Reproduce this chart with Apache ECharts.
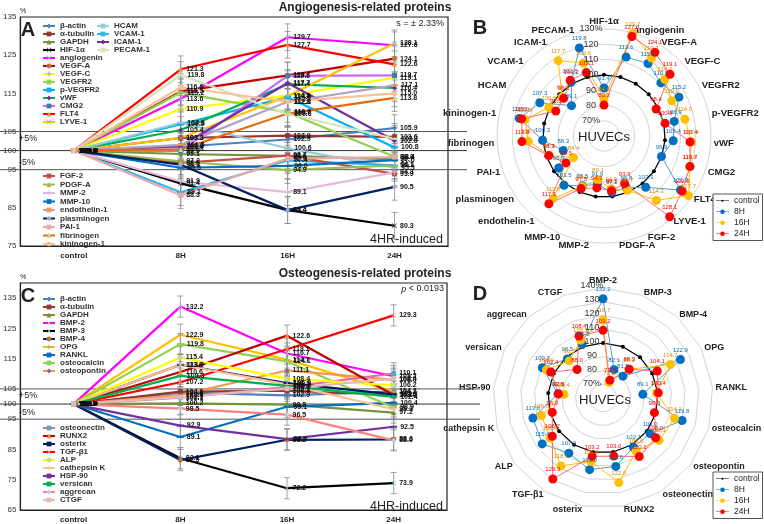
<!DOCTYPE html>
<html lang="en">
<head>
<meta charset="UTF-8">
<title>HUVECs angiogenesis / osteogenesis proteins</title>
<script src="https://cdn.jsdelivr.net/npm/echarts@6/dist/echarts.min.js"></script>
<style>
  html, body { margin: 0; padding: 0; background: #fff; }
  #main { width: 764px; height: 524px; }
</style>
</head>
<body>
<div id="main"></div>
<script>
const times = ['control', '8H', '16H', '24H'];

// panel A / B : angiogenesis-related proteins (control = 100)
const angioNames = ['β-actin', 'α-tubulin', 'GAPDH', 'HIF-1α', 'angiogenin', 'VEGF-A', 'VEGF-C', 'VEGFR2',
  'p-VEGFR2', 'vWF', 'CMG2', 'FLT4', 'LYVE-1', 'HCAM', 'VCAM-1', 'ICAM-1', 'PECAM-1', 'FGF-2', 'PDGF-A',
  'MMP-2', 'MMP-10', 'endothelin-1', 'plasminogen', 'PAI-1', 'fibrinogen', 'kininogen-1'];
const angio8H  = [101.0, 103.3, 99.1, 91.4, 113.6, 115.5, 110.9, 115.2, 106.9, 105.4, 99.9, 121.3, 103.3,
  107.3, 89.1, 101.2, 119.8, 96.8, 97.2, 91.9, 95.5, 101.5, 96.3, 88.3, 100.3, 116.6];
const angio16H = [102.9, 103.9, 98.6, 84.4, 129.7, 119.7, 114.4, 110.0, 114.0, 117.4, 119.6, 127.7, 114.3,
  100.6, 97.4, 117.7, 109.6, 98.7, 94.9, 89.1, 96.0, 112.8, 84.4, 97.9, 109.7, 112.8];
const angio24H = [105.9, 103.6, 97.7, 80.3, 127.6, 124.1, 119.1, 98.4, 100.8, 116.4, 119.7, 122.6, 128.1,
  95.5, 96.1, 102.6, 103.1, 93.9, 96.1, 94.3, 97.5, 117.1, 90.5, 98.3, 113.8, 115.0];
// radar B axes, clockwise from the top
const angioRadarAxes = ['HIF-1α', 'angiogenin', 'VEGF-A', 'VEGF-C', 'VEGFR2', 'p-VEGFR2', 'vWF', 'CMG2',
  'FLT4', 'LYVE-1', 'FGF-2', 'PDGF-A', 'MMP-2', 'MMP-10', 'endothelin-1', 'plasminogen', 'PAI-1',
  'fibrinogen', 'kininogen-1', 'HCAM', 'VCAM-1', 'ICAM-1', 'PECAM-1'];

// panel C / D : osteogenesis-related proteins
const osteoNames = ['β-actin', 'α-tubulin', 'GAPDH', 'BMP-2', 'BMP-3', 'BMP-4', 'OPG', 'RANKL', 'osteocalcin',
  'osteopontin', 'osteonectin', 'RUNX2', 'osterix', 'TGF-β1', 'ALP', 'cathepsin K', 'HSP-90', 'versican',
  'aggrecan', 'CTGF'];
const osteo8H  = [103.8, 104.1, 100.2, 132.2, 82.1, 81.5, 122.9, 89.1, 119.8, 103.0, 102.1, 110.6, 113.0,
  107.2, 115.4, 113.0, 92.9, 109.3, 98.5, 102.3];
const osteo16H = [102.9, 104.4, 99.8, 116.7, 72.2, 88.2, 114.7, 99.1, 114.1, 111.1, 105.6, 122.6, 106.9,
  118.1, 108.4, 106.5, 88.4, 106.0, 96.5, 105.1];
const osteo24H = [104.2, 103.0, 97.2, 109.2, 73.9, 88.3, 104.1, 100.4, 98.9, 108.0, 110.1, 103.0, 103.2,
  129.3, 106.2, 98.3, 92.5, 102.4, 88.0, 108.4];
const osteoRadarAxes = osteoNames.slice(3);

const angioYLabels = [75, 85, 95, 100, 105, 115, 125, 135];
const osteoYLabels = [65, 75, 85, 95, 100, 105, 115, 125, 135];
const angioRings = [70, 80, 90, 100, 110, 120, 130];
const osteoRings = [70, 80, 90, 100, 110, 120, 130, 140];

// ---- styles ----
const FONT = '"Liberation Sans", Arial, sans-serif';
const XSYM = 'path://M1,0L5,4L9,0L10,1L6,5L10,9L9,10L5,6L1,10L0,9L4,5L0,1Z';
const PLUS = 'path://M4,0H6V4H10V6H6V10H4V6H0V4H4Z';
const DASH = 'path://M0,0H10V3H0Z';

const angioStyle = {
  'β-actin': ['#4f81bd', '#4f81bd', 'diamond'], 'α-tubulin': ['#953735', '#953735', 'rect'],
  'GAPDH': ['#77933c', '#77933c', 'triangle'], 'HIF-1α': ['#000000', '#404040', XSYM],
  'angiogenin': ['#ff00ff', '#9dc3e6', XSYM], 'VEGF-A': ['#c00000', '#c0703a', 'circle'],
  'VEGF-C': ['#ffff00', '#a6a6a6', PLUS], 'VEGFR2': ['#92d050', '#92d050', DASH],
  'p-VEGFR2': ['#00b0f0', '#00b0f0', DASH], 'vWF': ['#00b050', '#7030a0', 'diamond'],
  'CMG2': ['#cc66ff', '#31859c', 'rect'], 'FLT4': ['#ff0000', '#f79646', 'triangle'],
  'LYVE-1': ['#ffc000', '#8db4e2', XSYM], 'HCAM': ['#93cddd', '#93cddd', DASH],
  'VCAM-1': ['#31b6e7', '#31b6e7', DASH], 'ICAM-1': ['#7030a0', '#7030a0', 'diamond'],
  'PECAM-1': ['#d7e4bd', '#d7e4bd', DASH], 'FGF-2': ['#c0504d', '#c0504d', 'rect'],
  'PDGF-A': ['#9bbb59', '#9bbb59', 'triangle'], 'MMP-2': ['#e6b9d8', '#ccc0da', PLUS],
  'MMP-10': ['#0070c0', '#0070c0', DASH], 'endothelin-1': ['#b3a2c7', '#f79646', DASH],
  'plasminogen': ['#002060', '#95b3d7', 'diamond'], 'PAI-1': ['#eaa9a9', '#eaa9a9', 'rect'],
  'fibrinogen': ['#e46c0a', '#c3d69b', 'triangle'], 'kininogen-1': ['#fac090', '#fac090', 'circle']
};
const osteoStyle = {
  'β-actin': ['#4f81bd', '#4f81bd', 'diamond'], 'α-tubulin': ['#953735', '#953735', 'rect'],
  'GAPDH': ['#77933c', '#77933c', 'triangle'], 'BMP-2': ['#ff00ff', '#b7dee8', XSYM],
  'BMP-3': ['#000000', '#93cddd', XSYM], 'BMP-4': ['#002060', '#c0703a', 'circle'],
  'OPG': ['#ffc000', '#a6a6a6', PLUS], 'RANKL': ['#0070c0', '#0070c0', DASH],
  'osteocalcin': ['#92d050', '#92d050', DASH], 'osteopontin': ['#f79646', '#8064a2', 'diamond'],
  'osteonectin': ['#e36c9a', '#4bacc6', 'rect'], 'RUNX2': ['#c00000', '#f79646', 'triangle'],
  'osterix': ['#002060', '#002060', DASH], 'TGF-β1': ['#ff0000', '#f2a7a7', XSYM],
  'ALP': ['#ffff00', '#c3d69b', 'circle'], 'cathepsin K': ['#fac090', '#fac090', PLUS],
  'HSP-90': ['#7030a0', '#7030a0', DASH], 'versican': ['#00b050', '#00b050', DASH],
  'aggrecan': ['#ff8080', '#b9cde5', 'diamond'], 'CTGF': ['#e6b9b8', '#e6b9b8', 'rect']
};

const fmt1 = v => (typeof v === 'number' ? v.toFixed(1) : v);

function lineSeries(names, v8, v16, v24, style, axisIdx) {
  return names.map((n, i) => {
    const s = style[n];
    return {
      type: 'line', name: n, xAxisIndex: axisIdx, yAxisIndex: axisIdx,
      data: [100, v8[i], v16[i], v24[i]],
      symbol: s[2], symbolSize: s[2] === DASH ? [7, 2] : 5,
      lineStyle: { color: s[0], width: 2.2 },
      itemStyle: { color: s[1] },
      label: { show: true, position: 'right', distance: 3, fontSize: 7, fontWeight: 'bold',
        color: '#111', fontFamily: FONT, formatter: p => fmt1(p.value) },
      emphasis: { disabled: true }, z: 3
    };
  });
}

function errSeries(v8, v16, v24, err, axisIdx) {
  const data = [];
  [v8, v16, v24].forEach((arr, k) => arr.forEach(v => data.push([k + 1, v - err, v + err])));
  return {
    type: 'custom', name: 'err' + axisIdx, xAxisIndex: axisIdx, yAxisIndex: axisIdx, z: 2,
    encode: { x: 0, y: [1, 2] }, data: data, silent: true,
    renderItem: (params, api) => {
      const lo = api.coord([api.value(0), api.value(1)]);
      const hi = api.coord([api.value(0), api.value(2)]);
      const st = { stroke: '#8c8c8c', lineWidth: 0.8 };
      return { type: 'group', children: [
        { type: 'line', shape: { x1: lo[0], y1: lo[1], x2: hi[0], y2: hi[1] }, style: st },
        { type: 'line', shape: { x1: lo[0] - 3, y1: lo[1], x2: lo[0] + 3, y2: lo[1] }, style: st },
        { type: 'line', shape: { x1: hi[0] - 3, y1: hi[1], x2: hi[0] + 3, y2: hi[1] }, style: st }
      ] };
    }
  };
}

// echarts lays radar axes counter-clockwise, so flip the list after the first one
const ccw = arr => [arr[0]].concat(arr.slice(1).reverse());

function radarData(axes, names, v8, v16, v24) {
  const pick = arr => ccw(axes.map(a => arr[names.indexOf(a)]));
  const lab = c => ({ show: true, fontSize: 6, color: c, fontFamily: FONT, distance: 2, formatter: p => fmt1(p.value) });
  return [
    { name: 'control', value: axes.map(() => 100), symbol: 'circle', symbolSize: 4,
      lineStyle: { color: '#000', width: 1.2 }, itemStyle: { color: '#000' }, label: { show: false } },
    { name: '8H', value: pick(v8), symbol: 'circle', symbolSize: 9,
      lineStyle: { color: '#5b9bd5', width: 1 }, itemStyle: { color: '#0070c0' }, label: lab('#0070c0') },
    { name: '16H', value: pick(v16), symbol: 'circle', symbolSize: 9,
      lineStyle: { color: '#ffc000', width: 1 }, itemStyle: { color: '#ffc000' }, label: lab('#e08a00') },
    { name: '24H', value: pick(v24), symbol: 'circle', symbolSize: 9,
      lineStyle: { color: '#ff6b6b', width: 1 }, itemStyle: { color: '#ff0000' }, label: lab('#ff0000') }
  ];
}

const legendText = { fontSize: 8, lineHeight: 8, fontWeight: 'bold', color: '#333', fontFamily: FONT };
function lineLegend(list, left, top, gap) {
  return { data: list, orient: 'vertical', left: left, top: top, itemWidth: 12, itemHeight: 6,
    itemGap: gap, padding: 0, selectedMode: false, textStyle: legendText };
}
const radarIcon = r => 'path://M0,4.6H20V5.4H0Z M' + (10 + r) + ',5A' + r + ',' + r + ' 0 1 1 ' + (10 - r) +
  ',5A' + r + ',' + r + ' 0 1 1 ' + (10 + r) + ',5Z';
function radarLegend(left, top) {
  return { data: [{ name: 'control', icon: radarIcon(1.6) }, { name: '8H', icon: radarIcon(3.5) },
    { name: '16H', icon: radarIcon(3.5) }, { name: '24H', icon: radarIcon(3.5) }],
    orient: 'vertical', left: left, top: top, itemWidth: 13, itemHeight: 7, itemGap: 1.5,
    padding: [2, 3, 2, 3], borderColor: '#555', borderWidth: 1, backgroundColor: '#fff',
    selectedMode: false, textStyle: { fontSize: 8.5, lineHeight: 9.5, color: '#222', fontFamily: FONT } };
}

function yAxis(gridIdx, min, max, shown) {
  return { type: 'value', gridIndex: gridIdx, min: min, max: max, interval: 5,
    axisLine: { show: true, lineStyle: { color: '#222', width: 1.2 } }, axisTick: { show: false },
    splitLine: { show: false },
    axisLabel: { fontSize: 8, color: '#333', margin: 4, fontFamily: FONT,
      formatter: v => (shown.indexOf(v) >= 0 ? String(v) : '') } };
}
function xAxis(gridIdx) {
  return { type: 'category', gridIndex: gridIdx, data: times, boundaryGap: true,
    axisLine: { lineStyle: { color: '#222', width: 1.2 } }, axisTick: { show: false },
    axisLabel: { fontSize: 8, fontWeight: 'bold', color: '#222', margin: 6, fontFamily: FONT } };
}

function radarCfg(center, radius, axes, max, split, shape, nameSize, gap) {
  return { center: center, radius: radius, startAngle: 90, shape: shape, splitNumber: split,
    indicator: ccw(axes).map(n => ({ name: n, min: 60, max: max })),
    nameGap: gap,
    axisName: { color: '#222', fontSize: nameSize, fontWeight: 'bold', fontFamily: FONT },
    splitLine: { lineStyle: { color: '#d4d4d4', width: 1 } }, splitArea: { show: false },
    axisLine: { show: false }, axisTick: { show: false }, axisLabel: { show: false } };
}

function txt(x, y, text, size, opts) {
  return Object.assign({ type: 'text', x: x, y: y, silent: true, z: 10,
    style: Object.assign({ text: text, font: size + 'px ' + FONT, fill: '#222',
      align: 'center', verticalAlign: 'middle' }, (opts || {})) });
}

const graphics = [
  txt(365, 8, 'Angiogenesis-related proteins', 12, { font: 'bold 12px ' + FONT }),
  txt(444, 24, 's = ± 2.33%', 9, { align: 'right' }),
  txt(443, 240, '4HR-induced', 12.5, { align: 'right' }),
  txt(28, 30, 'A', 20, { font: 'bold 20px ' + FONT }),
  txt(20, 11, '%', 7, { align: 'left' }),
  txt(365, 274, 'Osteogenesis-related proteins', 12, { font: 'bold 12px ' + FONT }),
  { type: 'text', x: 444, y: 289, silent: true, z: 10,
    style: { text: '{i|p} < 0.0193', align: 'right', verticalAlign: 'middle', font: '9px ' + FONT, fill: '#222',
      rich: { i: { fontStyle: 'italic', fontSize: 9, fontFamily: FONT } } } },
  txt(443, 507, '4HR-induced', 12.5, { align: 'right' }),
  txt(28, 296, 'C', 20, { font: 'bold 20px ' + FONT }),
  txt(20, 277, '%', 7, { align: 'left' }),
  txt(480, 28, 'B', 20, { font: 'bold 20px ' + FONT }),
  txt(480, 294, 'D', 20, { font: 'bold 20px ' + FONT }),
  txt(604, 137, 'HUVECs', 13),
  txt(605, 400, 'HUVECs', 13)
];
angioRings.forEach(v => graphics.push(txt(591, 136 - (v - 60) / 70 * 107,
  v === 130 ? '130%' : (v === 70 ? '70%' : String(v)), 9, { fill: '#333' })));
osteoRings.forEach(v => graphics.push(txt(592, 398 - (v - 60) / 80 * 112,
  v === 140 ? '140%' : (v === 70 ? '70%' : String(v)), 9, { fill: '#333' })));

const option = {
  animation: false,
  backgroundColor: '#fff',
  textStyle: { fontFamily: FONT },
  grid: [
    { left: 17, top: 17, width: 431, height: 229, show: true, borderColor: '#222', borderWidth: 1.2 },
    { left: 17, top: 283, width: 430, height: 230, show: true, borderColor: '#222', borderWidth: 1.2 }
  ],
  xAxis: [xAxis(0), xAxis(1)],
  yAxis: [yAxis(0, 75, 135, angioYLabels), yAxis(1, 65, 140, osteoYLabels)],
  radar: [
    radarCfg([604, 136], 107, angioRadarAxes, 130, 7, 'circle', 9.5, 3),
    radarCfg([603, 398], 110, osteoRadarAxes, 140, 8, 'polygon', 9, 3)
  ],
  legend: [
    lineLegend(angioNames.slice(0, 13), 42, 22, 0),
    lineLegend(angioNames.slice(13, 17), 96, 22, 0),
    lineLegend(angioNames.slice(17), 42, 172, 0.5),
    lineLegend(osteoNames.slice(0, 10), 42, 295, 0),
    lineLegend(osteoNames.slice(10), 42, 424, 0),
    radarLegend(713, 194),
    radarLegend(713, 472)
  ],
  series: [
    errSeries(angio8H, angio16H, angio24H, 3.5, 0),
    errSeries(osteo8H, osteo16H, osteo24H, 3.5, 1)
  ].concat(
    lineSeries(angioNames, angio8H, angio16H, angio24H, angioStyle, 0),
    lineSeries(osteoNames, osteo8H, osteo16H, osteo24H, osteoStyle, 1),
    [
      { type: 'radar', radarIndex: 0, name: 'angioRadar', silent: true,
        data: radarData(angioRadarAxes, angioNames, angio8H, angio16H, angio24H) },
      { type: 'radar', radarIndex: 1, name: 'osteoRadar', silent: true,
        data: radarData(osteoRadarAxes, osteoNames, osteo8H, osteo16H, osteo24H) }
    ]
  ),
  graphic: graphics
};

const chart = echarts.init(document.getElementById('main'));
chart.setOption(option);

// ±5% guide lines that run past the plot box, plus their tags
const guides = [];
[[0, 467], [1, 480]].forEach(([idx, xEnd]) => {
  const y = v => chart.convertToPixel({ yAxisIndex: idx }, v);
  [[105, '#555'], [100, '#333'], [95, '#555']].forEach(([v, c]) => {
    guides.push({ type: 'line', silent: true, z: 1,
      shape: { x1: 0, y1: y(v), x2: xEnd, y2: y(v) }, style: { stroke: c, lineWidth: 1 } });
  });
  guides.push(txt(19, y(105) + 7, '+5%', 9, { align: 'left' }));
  guides.push(txt(19, y(95) - 7, '-5%', 9, { align: 'left' }));
});
chart.setOption({ graphic: graphics.concat(guides) });
</script>
</body>
</html>
